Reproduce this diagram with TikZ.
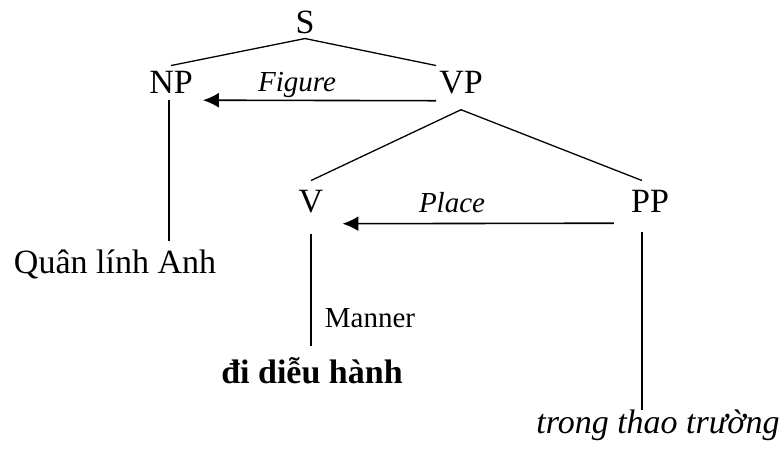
\documentclass[tikz,border=0pt]{standalone}
\usepackage{fontspec}
\setmainfont{LiberationSerif}[Extension=.ttf,UprightFont=*-Regular,BoldFont=*-Bold,ItalicFont=*-Italic,BoldItalicFont=*-BoldItalic]
\usetikzlibrary{arrows.meta}

\begin{document}
\begin{tikzpicture}[x=1pt,y=-1pt]
		\tikzstyle{every node}+=[inner xsep=3pt,inner ysep=5pt,anchor=base]
		\tikzstyle{cat}=[font=\fontsize{34}{40}\selectfont]
		\tikzstyle{role}=[font=\fontsize{29}{34}\selectfont]
		\tikzstyle{branch}=[black,line width=1.3pt]
		\tikzstyle{relation}=[black,line width=1.6pt,-{Latex[length=16pt,width=15pt]}]
		\useasboundingbox (0,0) rectangle (783,453);
		\node [cat] (s) at (305,33) {S};
		\node [cat] (np) at (171,93) {NP};
		\node [cat] (vp) at (461,93) {VP};
		\node [cat] (v) at (311,212) {V};
		\node [cat] (pp) at (650,212) {PP};
		\node [cat] (quan) at (115,273) {Quân lính Anh};
		\node [cat] (dieu) at (312,383) {\textbf{đi diễu hành}};
		\node [cat] (thao) at (658,433) {\textit{trong thao trường}};
		\node [role] (figure) at (297,91) {\textit{Figure}};
		\node [role] (place) at (452,212) {\textit{Place}};
		\node [role] (manner) at (370,327) {Manner};
		\draw [branch] (s.south) -- (np.north);
		\draw [branch] (s.south) -- (vp.north west);
		\draw [branch] ([yshift=-11pt]vp.south) -- ([yshift=4pt]v.north);
		\draw [branch] ([yshift=-11pt]vp.south) -- ([xshift=-8pt,yshift=4pt]pp.north);
		\draw [branch] ([xshift=-2pt,yshift=-2pt]np.south) -- ([xshift=-2pt,yshift=3pt]np.south |- quan.north);
		\draw [branch] ([yshift=-16pt]v.south) -- ([yshift=6pt]v.south |- dieu.north);
		\draw [branch] ([xshift=-8pt,yshift=-15pt]pp.south) -- ([xshift=-8pt,yshift=-6pt]pp.south |- thao.north);
		\draw [relation] ([yshift=-2pt]vp.south west) -- ([xshift=7pt,yshift=-2pt]np.south east);
		\draw [relation] ([xshift=-14pt,yshift=-6pt]pp.south west) -- ([xshift=16pt,yshift=-6pt]v.south east);
	\end{tikzpicture}
\end{document}
